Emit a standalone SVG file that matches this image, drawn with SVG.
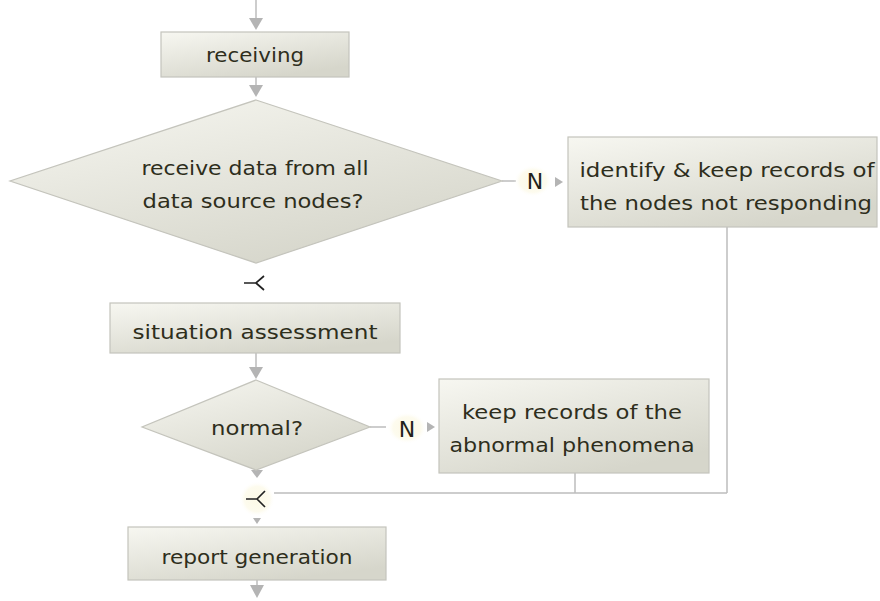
<svg xmlns="http://www.w3.org/2000/svg" width="880" height="601" viewBox="0 0 880 601">
<style>
.box{fill:url(#g);stroke:#c4c4bc;stroke-width:1.2}
.t{font-family:"DejaVu Sans",sans-serif;font-size:20px;fill:#2e2e1c;text-anchor:middle}
.n{font-family:"DejaVu Sans",sans-serif;font-size:22px;fill:#22221a;text-anchor:middle}
.ln{stroke:#bdbdbd;stroke-width:1.5;fill:none}
.ah{fill:#b4b4b4}
.fk{stroke:#222;stroke-width:1.7;fill:none}
</style>
<defs>
<linearGradient id="g" x1="0" y1="0" x2="0.6" y2="1">
<stop offset="0" stop-color="#f7f7f1"/>
<stop offset="1" stop-color="#d6d6cb"/>
</linearGradient>
<radialGradient id="cr">
<stop offset="0" stop-color="#fcf9e6"/>
<stop offset="0.7" stop-color="#fdfbee"/>
<stop offset="1" stop-color="#ffffff" stop-opacity="0"/>
</radialGradient>
</defs>
<g id="connectors">
<line class="ln" x1="256" y1="0" x2="256" y2="18"/>
<polygon class="ah" points="249,18 263,18 256,30"/>
<line class="ln" x1="256" y1="77" x2="256" y2="85"/>
<polygon class="ah" points="249,85 263,85 256,97"/>
<line class="ln" x1="502" y1="181" x2="516" y2="181"/>
<rect x="514" y="165" width="38" height="32" rx="12" fill="url(#cr)"/>
<text class="n" x="535" y="189">N</text>
<polygon class="ah" points="555,177 555,187 563,182"/>
<path class="fk" d="M244,283 H256 L264,276 M256,283 L264,290"/>
<line class="ln" x1="256" y1="353" x2="256" y2="367"/>
<polygon class="ah" points="249,367 263,367 256,379"/>
<line class="ln" x1="370" y1="427" x2="386" y2="427"/>
<rect x="387" y="412" width="40" height="32" rx="12" fill="url(#cr)"/>
<text class="n" x="407" y="437">N</text>
<polygon class="ah" points="427,422 427,432 435,427"/>
<line class="ln" x1="727" y1="227" x2="727" y2="493"/>
<line class="ln" x1="575" y1="473" x2="575" y2="493"/>
<line class="ln" x1="727" y1="493" x2="274" y2="493"/>
<polygon class="ah" points="251,470 263,470 257,478"/>
<circle cx="257" cy="499" r="18" fill="url(#cr)"/>
<path class="fk" d="M246,499 H257 L265,491 M257,499 L265,507"/>
<polygon class="ah" points="253,518 261,518 257,524"/>
<line class="ln" x1="257" y1="580" x2="257" y2="586"/>
<polygon class="ah" points="250,585 264,585 257,598"/>
</g>
<g id="receiving">
<rect class="box" x="161" y="32" width="188" height="45"/>
<text class="t" x="255" y="62" textLength="98" lengthAdjust="spacingAndGlyphs">receiving</text>
</g>
<g id="decision1">
<polygon class="box" points="256,100 502,181 256,263 10,181"/>
<text class="t" x="255" y="175" textLength="227" lengthAdjust="spacingAndGlyphs">receive data from all</text>
<text class="t" x="253" y="208" textLength="221" lengthAdjust="spacingAndGlyphs">data source nodes?</text>
</g>
<g id="identify">
<rect class="box" x="568" y="137" width="309" height="90"/>
<text class="t" x="727" y="177" textLength="295" lengthAdjust="spacingAndGlyphs">identify &amp; keep records of</text>
<text class="t" x="726" y="210" textLength="292" lengthAdjust="spacingAndGlyphs">the nodes not responding</text>
</g>
<g id="situation">
<rect class="box" x="110" y="303" width="290" height="50"/>
<text class="t" x="255" y="339" textLength="245" lengthAdjust="spacingAndGlyphs">situation assessment</text>
</g>
<g id="decision2">
<polygon class="box" points="256,380 370,427 256,470 142,427"/>
<text class="t" x="257" y="435" textLength="92" lengthAdjust="spacingAndGlyphs">normal?</text>
</g>
<g id="keep">
<rect class="box" x="439" y="379" width="270" height="94"/>
<text class="t" x="572" y="419" textLength="220" lengthAdjust="spacingAndGlyphs">keep records of the</text>
<text class="t" x="572" y="452" textLength="245" lengthAdjust="spacingAndGlyphs">abnormal phenomena</text>
</g>
<g id="report">
<rect class="box" x="128" y="527" width="258" height="53"/>
<text class="t" x="257" y="564" textLength="191" lengthAdjust="spacingAndGlyphs">report generation</text>
</g>
</svg>
